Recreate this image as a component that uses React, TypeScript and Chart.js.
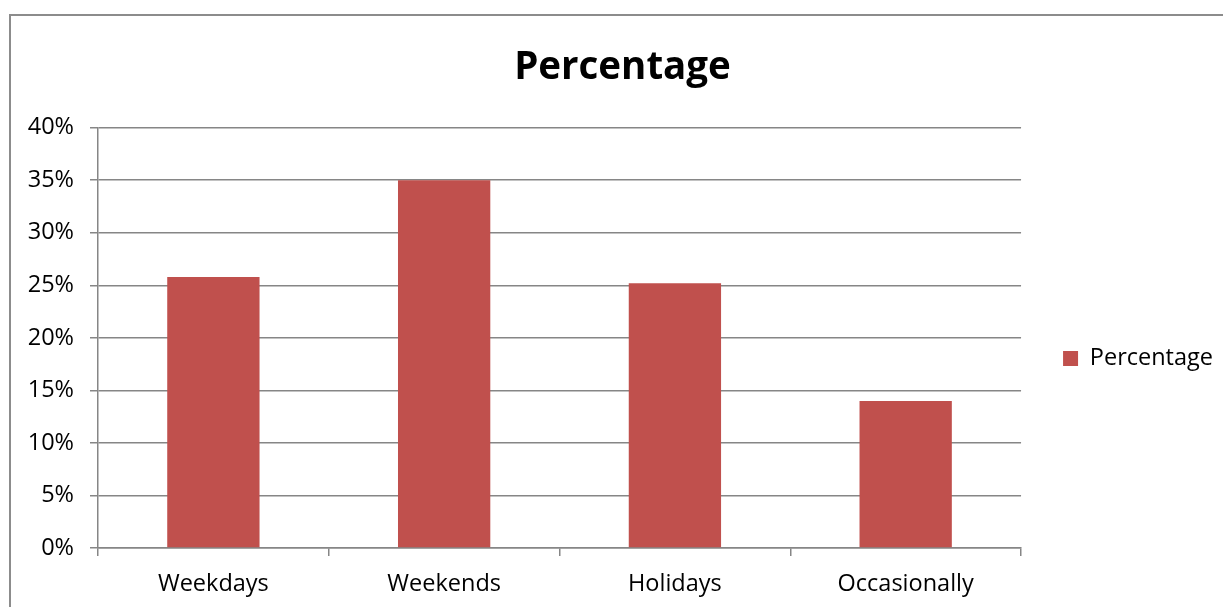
import React, { useEffect, useRef } from "react";
import { Chart, registerables } from "chart.js";

Chart.register(...registerables);

const categories = ["Weekdays", "Weekends", "Holidays", "Occasionally"];
const seriesName = "Percentage";
const values = [25.8, 35, 25.2, 14];
const yTicks = [0, 5, 10, 15, 20, 25, 30, 35, 40];

const FONT = "'Open Sans', 'Noto Sans', sans-serif";
const GRID = "#868686";
const LABEL_SIZE = 23.5;

export default function App() {
  const ref = useRef<HTMLCanvasElement | null>(null);

  useEffect(() => {
    if (!ref.current) return;
    const chart = new Chart(ref.current, {
      type: "bar",
      data: {
        labels: categories,
        datasets: [
          {
            label: seriesName,
            data: values,
            backgroundColor: "#C0504D",
            borderWidth: 0,
            categoryPercentage: 0.4,
            barPercentage: 1,
          },
        ],
      },
      options: {
        animation: false,
        responsive: false,
        devicePixelRatio: 1,
        layout: { padding: { left: 22, right: 0, top: 0, bottom: 0 } },
        plugins: {
          tooltip: { enabled: false },
          title: {
            display: true,
            text: seriesName,
            color: "#000",
            font: { family: FONT, size: 38.5, weight: "bold", lineHeight: 1.2 },
            padding: { top: 45, bottom: 36.5 },
          },
          legend: {
            position: "right",
            title: {
              display: true,
              text: " ",
              font: { family: FONT, size: 10, lineHeight: 1 },
              padding: { top: 100, bottom: 0 },
            },
            labels: {
              color: "#000",
              boxWidth: 15,
              boxHeight: 15,
              padding: 42,
              font: { family: FONT, size: LABEL_SIZE },
            },
          },
        },
        scales: {
          x: {
            grid: {
              display: true,
              drawOnChartArea: false,
              drawTicks: true,
              tickLength: 8,
              color: GRID,
              lineWidth: 1.5,
              offset: true,
            },
            border: { display: true, color: GRID, width: 1.5 },
            ticks: {
              color: "#000",
              font: { family: FONT, size: LABEL_SIZE },
              padding: 14,
            },
            afterFit: (s: any) => {
              s.height = 59;
            },
          },
          y: {
            min: 0,
            max: 40,
            afterBuildTicks: (s: any) => {
              s.ticks = yTicks.map((v) => ({ value: v }));
            },
            grid: {
              color: GRID,
              lineWidth: 1.5,
              tickLength: 8,
              drawTicks: true,
            },
            border: { display: true, color: GRID, width: 1.5 },
            ticks: {
              color: "#000",
              font: { family: FONT, size: LABEL_SIZE },
              padding: 16,
              callback: (v: any) => `${v}%`,
            },
            afterFit: (s: any) => {
              s.width = 76;
            },
          },
        },
      },
    });
    return () => chart.destroy();
  }, []);

  return (
    <div
      style={{
        position: "fixed",
        left: 0,
        top: 0,
        width: 1223,
        height: 607,
        background: "#fff",
        overflow: "hidden",
      }}
    >
      <div
        style={{
          position: "absolute",
          left: 9,
          top: 14,
          width: 1300,
          height: 700,
          borderLeft: "2px solid #8c8c8c",
          borderTop: "2px solid #8c8c8c",
        }}
      />
      <canvas
        ref={ref}
        width={1223}
        height={607}
        style={{ position: "absolute", left: 0, top: 0, width: 1223, height: 607 }}
      />
    </div>
  );
}
